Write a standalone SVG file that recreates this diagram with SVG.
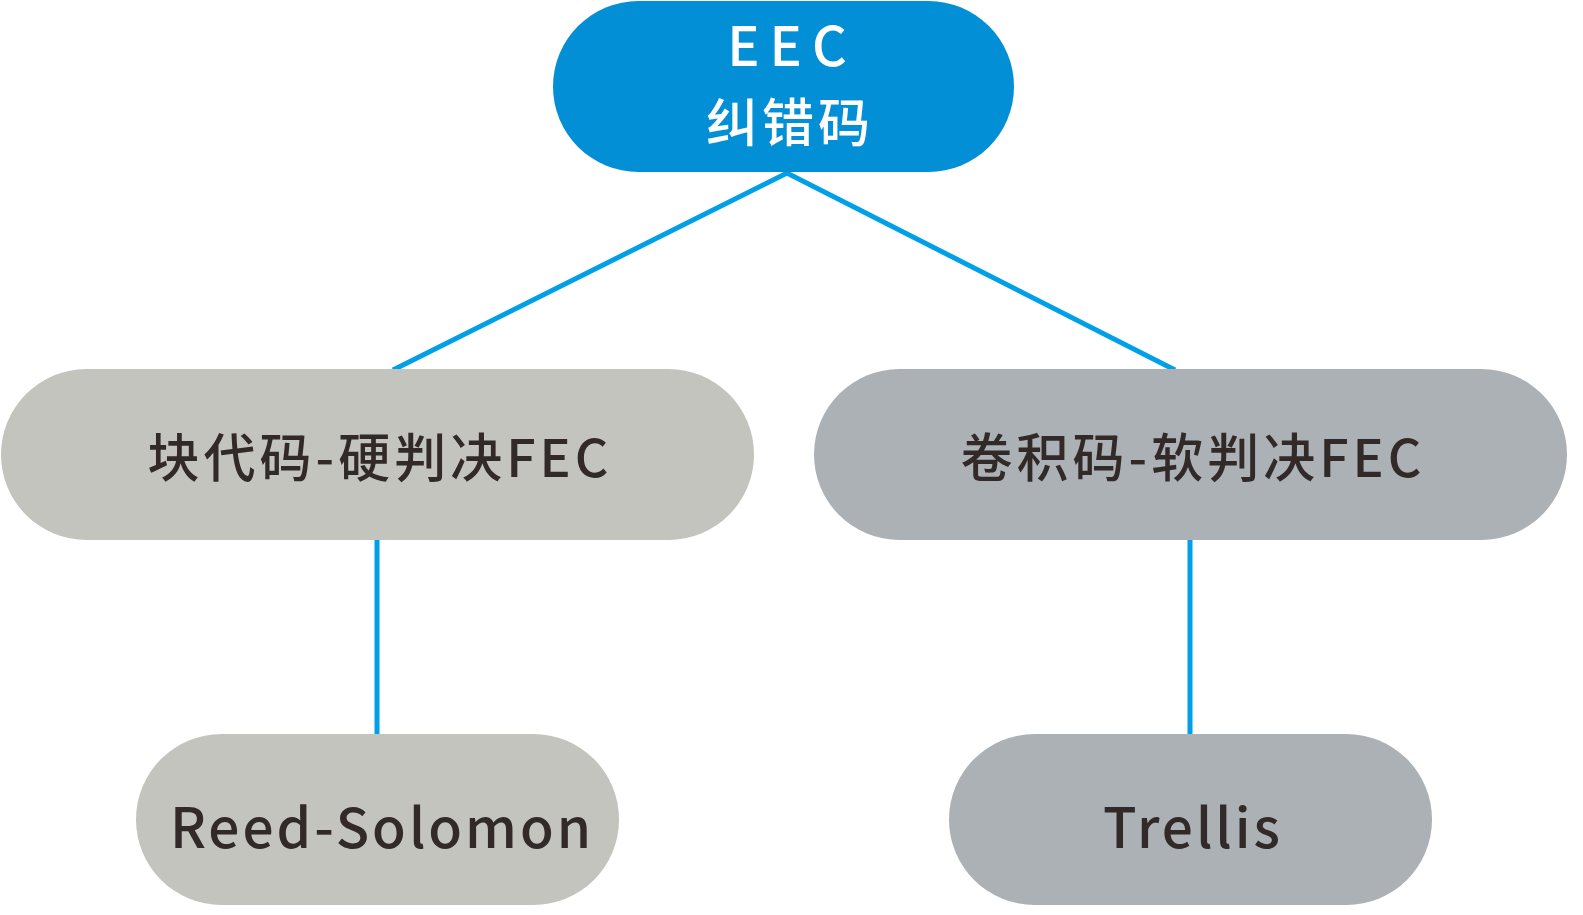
<svg xmlns="http://www.w3.org/2000/svg" width="1583" height="915" viewBox="0 0 1583 915">
<style>
.t{font-family:"Noto Sans CJK SC","Noto Sans",sans-serif;font-weight:500;text-anchor:middle;fill:#322a28;letter-spacing:4px}
.w{fill:#ffffff}
.c{stroke:#00a0e9;stroke-width:5;fill:none}
</style>
<rect width="1583" height="915" fill="#ffffff"/>
<g id="connectors">
<polyline class="c" points="393,370 787,173 1175,370"/>
<line class="c" x1="377" y1="540" x2="377" y2="734"/>
<line class="c" x1="1190" y1="540" x2="1190" y2="734"/>
</g>
<g id="node-eec">
<rect x="553" y="1" width="461" height="171" rx="85.5" fill="#028fd6"/>
<text class="t w" x="792" y="66" font-size="54" style="letter-spacing:10px">EEC</text>
<text class="t w" x="790" y="142" font-size="52">纠错码</text>
</g>
<g id="node-block">
<rect x="1" y="369" width="753" height="171" rx="85.5" fill="#c3c4bd"/>
<text class="t" x="380" y="477" font-size="52">块代码-硬判决FEC</text>
</g>
<g id="node-conv">
<rect x="814" y="369" width="753" height="171" rx="85.5" fill="#acb1b5"/>
<text class="t" x="1193" y="477" font-size="52">卷积码-软判决FEC</text>
</g>
<g id="node-rs">
<rect x="136" y="734" width="483" height="171" rx="85.5" fill="#c3c4bd"/>
<text class="t" x="382" y="848" font-size="55" style="letter-spacing:3px">Reed-Solomon</text>
</g>
<g id="node-trellis">
<rect x="949" y="734" width="483" height="171" rx="85.5" fill="#acb1b5"/>
<text class="t" x="1193" y="848" font-size="55" style="letter-spacing:3px">Trellis</text>
</g>
</svg>
